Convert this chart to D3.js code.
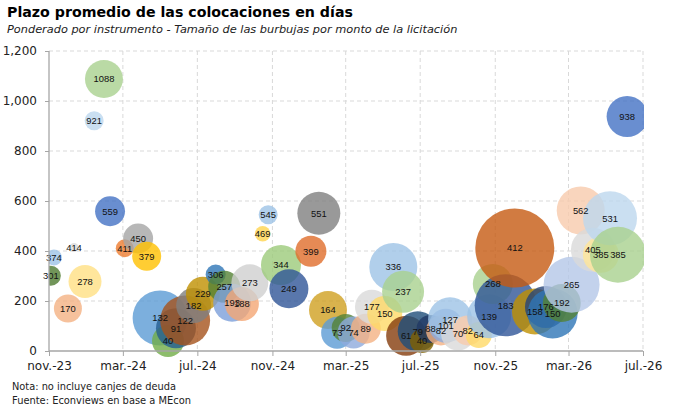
<!DOCTYPE html>
<html>
<head>
<meta charset="utf-8">
<script src="https://cdn.jsdelivr.net/npm/d3@7"></script>
<style>
  body { margin: 0; background: #fff; }
  svg { display: block; }
</style>
</head>
<body>
<svg id="chart" width="680" height="409"></svg>
<script>
// Fecha de cada licitación (una burbuja por fecha)
var fechas = [
  "2023-11-04", "2023-11-09", "2023-12-02", "2023-12-12", "2023-12-30",
  "2024-01-14", "2024-01-30", "2024-02-09", "2024-03-04", "2024-03-26",
  "2024-04-09", "2024-05-01", "2024-05-14", "2024-05-27", "2024-06-11",
  "2024-06-25", "2024-07-10", "2024-07-31", "2024-08-14", "2024-08-27",
  "2024-09-12", "2024-09-25", "2024-10-16", "2024-10-25", "2024-11-15",
  "2024-11-28", "2025-01-03", "2025-01-16", "2025-01-31", "2025-02-15",
  "2025-03-01", "2025-03-14", "2025-04-03", "2025-04-13", "2025-05-04",
  "2025-05-18", "2025-06-03", "2025-06-08", "2025-06-27", "2025-07-04",
  "2025-07-18", "2025-08-04", "2025-08-12", "2025-08-19", "2025-09-01",
  "2025-09-17", "2025-10-05", "2025-10-22", "2025-10-28", "2025-11-18",
  "2025-12-03", "2026-01-05", "2026-01-23", "2026-02-03", "2026-02-18",
  "2026-03-06", "2026-03-21", "2026-04-10", "2026-04-23", "2026-05-08",
  "2026-05-21", "2026-06-05"
];

// Plazo promedio ponderado, en días
var plazos = [
  301, 374, 170, 414, 278,
  921, 1088, 559, 411, 450,
  379, 132, 40, 91, 122,
  182, 229, 306, 257, 193,
  188, 273, 469, 545, 344,
  249, 399, 551, 164, 73,
  92, 74, 89, 177, 150,
  336, 237, 61, 79, 40,
  88, 82, 101, 127, 70,
  82, 64, 139, 268, 183,
  412, 158, 176, 150, 192,
  265, 562, 405, 385, 531,
  385, 938
];

// Monto de la licitación (tamaño de burbuja), estimado del gráfico
var montos = [
  250, 160, 490, 50, 680,
  225, 900, 560, 200, 560,
  525, 1890, 640, 1000, 1560,
  765, 720, 250, 640, 900,
  720, 855, 150, 225, 1000,
  950, 600, 1155, 900, 640,
  490, 640, 560, 720, 765,
  1440, 1100, 1000, 1000, 360,
  490, 560, 720, 1210, 720,
  560, 420, 1210, 1000, 2400,
  3900, 1320, 1100, 1560, 900,
  1960, 1440, 1210, 810, 1820,
  1960, 1050
];

// Color de cada burbuja
var colores = [
  "#4E7A30", "#9DC3E6", "#F4B183", "#D9D9D9", "#FFE083",
  "#BDD7EE", "#A9D18E", "#4472C4", "#ED7D31", "#A5A5A5",
  "#FFC000", "#5B9BD5", "#70AD47", "#255E91", "#A5521B",
  "#7F7F7F", "#BF9000", "#2E75B6", "#548235", "#7C9FD9",
  "#F4A674", "#D0D0D0", "#FFD54F", "#9DC3E6", "#9CCB7A",
  "#2F5597", "#E06D2A", "#7F7F7F", "#D0A020", "#5B9BD5",
  "#548235", "#8FAADC", "#F4B183", "#D9D9D9", "#FFD966",
  "#9DC3E6", "#A9D18E", "#843C0C", "#1F4E79", "#7F6000",
  "#203864", "#F4B183", "#8FAADC", "#9DC3E6", "#D9D9D9",
  "#F8CBAD", "#FFD966", "#9DC3E6", "#A9D18E", "#2F5597",
  "#C55A11", "#BF9000", "#264478", "#2E75B6", "#548235",
  "#B4C7E7", "#F8CBAD", "#D9D9D9", "#FFE699", "#BDD7EE",
  "#A9D18E", "#4472C4"
];

var yTicks = [0, 200, 400, 600, 800, 1000, 1200];
var meses = ["ene.", "feb.", "mar.", "abr.", "may.", "jun.",
             "jul.", "ago.", "sep.", "oct.", "nov.", "dic."];
var titulo = "Plazo promedio de las colocaciones en días";
var subtitulo = "Ponderado por instrumento - Tamaño de las burbujas por monto de la licitación";
var notas = ["Nota: no incluye canjes de deuda", "Fuente: Econviews en base a MEcon"];

var svg = d3.select("#chart");
var font = "'DejaVu Sans', Verdana, sans-serif";
var plotL = 49, plotR = 643, plotT = 51, plotB = 351;

var parse = d3.timeParse("%Y-%m-%d");
var inicio = parse("2023-11-01"), fin = parse("2026-07-01");

var x = d3.scaleTime().domain([inicio, fin]).range([plotL, plotR]);
var y = d3.scaleLinear().domain([0, 1200]).range([plotB, plotT]);
var r = d3.scaleSqrt().domain([0, d3.max(montos)]).range([0, 39.5]);

var xTicks = d3.range(0, 33, 4).map(function (m) { return d3.timeMonth.offset(inicio, m); });

// ajusta el tamaño de fuente para que el texto ocupe un ancho dado
function fit(sel, w) {
  var L = sel.node().getComputedTextLength();
  var fs = parseFloat(sel.attr("font-size"));
  sel.attr("font-size", (fs * w / L).toFixed(2));
}

// Títulos
var t1 = svg.append("text").attr("x", 7).attr("y", 17)
  .attr("font-family", font).attr("font-weight", "bold").attr("font-size", 15)
  .attr("fill", "#000").text(titulo);
fit(t1, 346);
var t2 = svg.append("text").attr("x", 7).attr("y", 33)
  .attr("font-family", font).attr("font-style", "italic").attr("font-size", 12)
  .attr("fill", "#222").text(subtitulo);
fit(t2, 451);

// Grilla
var grid = svg.append("g");
grid.selectAll("line.h").data(yTicks.slice(1)).enter().append("line")
  .attr("x1", plotL).attr("x2", plotR)
  .attr("y1", function (d) { return y(d); }).attr("y2", function (d) { return y(d); })
  .attr("stroke", "#D9D9D9").attr("stroke-dasharray", "4,3");
grid.selectAll("line.v").data(xTicks.slice(1)).enter().append("line")
  .attr("y1", plotT).attr("y2", plotB)
  .attr("x1", function (d) { return x(d); }).attr("x2", function (d) { return x(d); })
  .attr("stroke", "#D9D9D9").attr("stroke-dasharray", "4,3");

// Burbujas
svg.append("defs").append("clipPath").attr("id", "plot")
  .append("rect").attr("x", plotL).attr("y", 0).attr("width", plotR - plotL + 1).attr("height", 409);

var datos = fechas.map(function (f, i) {
  return { fecha: parse(f), plazo: plazos[i], monto: montos[i], color: colores[i] };
});

var burbujas = svg.append("g").attr("clip-path", "url(#plot)");
burbujas.selectAll("circle").data(datos).enter().append("circle")
  .attr("cx", function (d) { return x(d.fecha); })
  .attr("cy", function (d) { return y(d.plazo); })
  .attr("r", function (d) { return r(d.monto); })
  .attr("fill", function (d) { return d.color; })
  .attr("fill-opacity", 0.8);

svg.append("g").selectAll("text").data(datos).enter().append("text")
  .attr("x", function (d) { return x(d.fecha); })
  .attr("y", function (d) { return y(d.plazo); })
  .attr("dy", "0.35em")
  .attr("text-anchor", "middle")
  .attr("font-family", "'Liberation Sans', Arial, sans-serif")
  .attr("font-size", 9.4)
  .attr("fill", "#111")
  .text(function (d) { return d.plazo; });

// Ejes
var fmtY = d3.format(",");
var yAxis = svg.append("g").attr("transform", "translate(" + plotL + ",0)")
  .call(d3.axisLeft(y).tickValues(yTicks).tickSize(4).tickPadding(8).tickFormat(fmtY));
var xAxis = svg.append("g").attr("transform", "translate(0," + plotB + ")")
  .call(d3.axisBottom(x).tickValues(xTicks).tickSize(5).tickPadding(5)
    .tickFormat(function (d) { return meses[d.getMonth()] + "-" + String(d.getFullYear()).slice(2); }));

[yAxis, xAxis].forEach(function (g) {
  g.select(".domain").attr("stroke", "#A6A6A6").attr("stroke-width", 1.3);
  g.selectAll(".tick line").attr("stroke", "#A6A6A6");
  g.selectAll(".tick text").attr("font-family", font).attr("font-size", 12).attr("fill", "#222");
});
xAxis.select(".domain").attr("d", "M" + plotL + ",0H" + plotR);
yAxis.select(".domain").attr("d", "M0," + plotT + "V" + plotB);

// Notas
notas.forEach(function (n, i) {
  var t = svg.append("text").attr("x", 12).attr("y", 390 + i * 14)
    .attr("font-family", font).attr("font-size", 11).attr("fill", "#222").text(n);
  fit(t, i === 0 ? 164 : 179);
});
</script>
</body>
</html>
